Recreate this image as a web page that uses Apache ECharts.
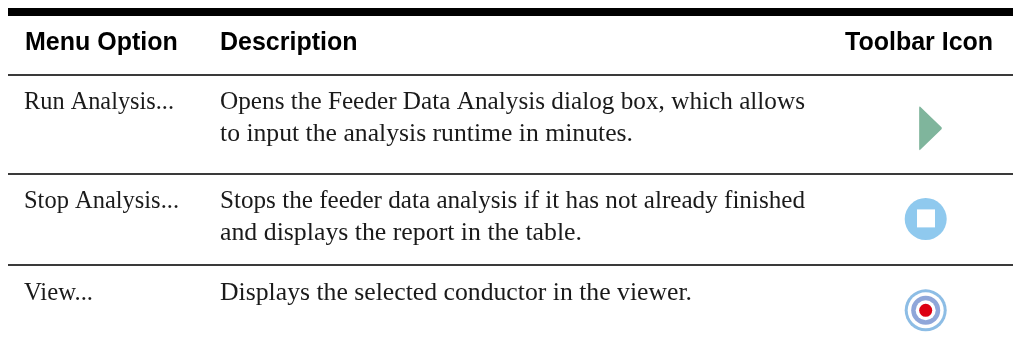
<!DOCTYPE html>
<html lang="en">
<head>
    <meta charset="utf-8"/>
    <title>Menu options</title>
    <script src="https://cdn.jsdelivr.net/npm/echarts@6/dist/echarts.min.js"></script>
    <style>
        html, body { margin: 0; height: 100%; background: #FFFFFF; }
        #chart { width: 1013px; height: 358px; }
    </style>
</head>
<body>
<div id="chart"></div>
<script>
    // table content
    var headers = ['Menu Option', 'Description', 'Toolbar Icon'];
    var menuOptions = ['Run Analysis...', 'Stop Analysis...', 'View...'];
    var descriptions = [
        ['Opens the Feeder Data Analysis dialog box, which allows', 'to input the analysis runtime in minutes.'],
        ['Stops the feeder data analysis if it has not already finished', 'and displays the report in the table.'],
        ['Displays the selected conductor in the viewer.']
    ];
    var toolbarIcons = ['run', 'stop', 'view'];

    // layout, the axes run in page pixels
    var W = 1013, H = 358;
    var headerX = [25, 220, 845];
    var headerY = 43;
    var rowX = [24, 220];
    var rowTextY = [102, 201, 293];
    var lineGap = 32;
    var rules = [{y: 12, size: 8, color: '#000000'}, {y: 75, size: 2, color: '#3a3a3a'},
        {y: 174, size: 2, color: '#3a3a3a'}, {y: 265, size: 2, color: '#3a3a3a'}];
    var ruleLeft = 8;
    var iconX = 925.7;
    var iconY = [128.3, 219, 310.3];

    // the original is set in a Garamond, so lines are stretched to its measured widths
    var menuWidths = [150, 155, 69];
    var descWidths = [[585, 413], [585, 362], [472]];

    var textItems = [];
    headers.forEach(function (t, i) {
        textItems.push({text: t, x: headerX[i], y: headerY, bold: true});
    });
    menuOptions.forEach(function (t, i) {
        textItems.push({text: t, x: rowX[0], y: rowTextY[i], width: menuWidths[i]});
        descriptions[i].forEach(function (line, j) {
            textItems.push({text: line, x: rowX[1], y: rowTextY[i] + j * lineGap, width: descWidths[i][j]});
        });
    });

    var headerFont = 'bold 25px "Liberation Sans"';
    var bodyFont = '25px "Liberation Serif"';
    var measure = document.createElement('canvas').getContext('2d');

    function fitScale(t) {
        if (!t.width) {
            return 1;
        }
        measure.font = bodyFont;
        return t.width / measure.measureText(t.text).width;
    }

    var trianglePath = 'path://M0,0 L22,21 L0,42 Z';

    function iconLayers(name, y) {
        if (name === 'run') {
            return [{
                value: [iconX + 4.8, y],
                symbol: trianglePath,
                symbolSize: [21.5, 41.5],
                itemStyle: {color: '#7FB59C', borderColor: '#7FB59C', borderWidth: 1.5, borderJoin: 'round', opacity: 1}
            }];
        }
        if (name === 'stop') {
            return [
                {value: [iconX, y], symbol: 'circle', symbolSize: 42, itemStyle: {color: '#8FC9EE', opacity: 1}},
                {value: [iconX + 0.3, y - 0.6], symbol: 'rect', symbolSize: 18, itemStyle: {color: '#FFFFFF', opacity: 1}}
            ];
        }
        return [
            {value: [iconX, y], symbol: 'circle', symbolSize: 42, itemStyle: {color: '#8DBDE5', opacity: 1}},
            {value: [iconX, y], symbol: 'circle', symbolSize: 36, itemStyle: {color: '#FFFFFF', opacity: 1}},
            {value: [iconX, y], symbol: 'circle', symbolSize: 29, itemStyle: {color: '#8FA6D9', opacity: 1}},
            {value: [iconX, y], symbol: 'circle', symbolSize: 20, itemStyle: {color: '#FFFFFF', opacity: 1}},
            {value: [iconX, y], symbol: 'circle', symbolSize: 13, itemStyle: {color: '#DC0012', opacity: 1}}
        ];
    }

    var iconData = [];
    toolbarIcons.forEach(function (name, i) {
        iconData = iconData.concat(iconLayers(name, iconY[i]));
    });

    var chart = echarts.init(document.getElementById('chart'), null, {renderer: 'canvas'});
    chart.setOption({
        animation: false,
        backgroundColor: '#FFFFFF',
        grid: {left: 0, right: 0, top: 0, bottom: 0},
        xAxis: {type: 'value', min: 0, max: W, show: false},
        yAxis: {type: 'value', min: 0, max: H, inverse: true, show: false},
        series: [
            {
                type: 'custom',
                coordinateSystem: 'cartesian2d',
                silent: true,
                data: rules.map(function (r) { return [ruleLeft, r.y]; }),
                renderItem: function (params, api) {
                    var r = rules[params.dataIndex];
                    var a = api.coord([api.value(0), api.value(1)]);
                    var b = api.coord([W, api.value(1)]);
                    return {
                        type: 'rect',
                        shape: {x: a[0], y: a[1] - r.size / 2, width: b[0] - a[0], height: r.size},
                        style: {fill: r.color}
                    };
                }
            },
            {
                type: 'custom',
                coordinateSystem: 'cartesian2d',
                silent: true,
                data: textItems.map(function (t) { return [t.x, t.y]; }),
                renderItem: function (params, api) {
                    var t = textItems[params.dataIndex];
                    var p = api.coord([api.value(0), api.value(1)]);
                    return {
                        type: 'text',
                        x: p[0],
                        y: p[1],
                        scaleX: fitScale(t),
                        style: {
                            text: t.text,
                            fill: t.bold ? '#000000' : '#1a1a1a',
                            font: t.bold ? headerFont : bodyFont,
                            textAlign: 'left',
                            textVerticalAlign: 'middle'
                        }
                    };
                }
            },
            {
                type: 'scatter',
                silent: true,
                data: iconData
            }
        ]
    });
</script>
</body>
</html>
